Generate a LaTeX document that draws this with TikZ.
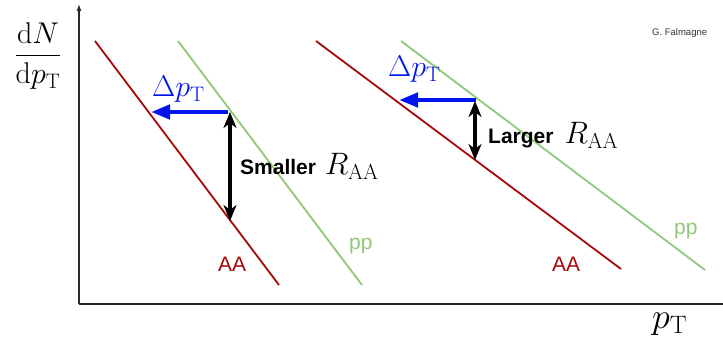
\documentclass[tikz,border=0pt]{standalone}
\usepackage{fix-cm}
\usepackage{amsmath}
\usepackage{fontspec}
\newfontfamily\hv{Liberation Sans}
\usetikzlibrary{arrows.meta}
\definecolor{aared}{RGB}{165,10,10}
\definecolor{ppgreen}{RGB}{145,200,120}
\definecolor{dpblue}{RGB}{0,20,240}
\definecolor{axisgray}{RGB}{40,40,40}
\begin{document}
\begin{tikzpicture}[x=1pt,y=-1pt,
  axisline/.style={draw=axisgray,line width=1.3pt},
  aaline/.style={draw=aared,line width=1.8pt},
  ppline/.style={draw=ppgreen,line width=1.8pt},
  shiftarrow/.style={draw=dpblue,line width=4.5pt,-{Triangle[length=19pt,width=14pt]}},
  raaarrow/.style={draw=black,line width=3.3pt,{Stealth[length=16pt,width=13pt,inset=5pt]}-{Stealth[length=16pt,width=13pt,inset=5pt]}},
  mlabel/.style={inner sep=0pt,font=\fontsize{30}{36}\selectfont},
  slabel/.style={inner sep=0pt,font=\hv\fontsize{21}{25}\selectfont},
]
\useasboundingbox (0,0) rectangle (723,350);
% axes
\coordinate (O) at (79,304);
\coordinate (ytop) at (79,4);
\coordinate (xend) at (723,304);
\draw[axisline,-{Latex[length=7pt,width=5pt]}] (O) -- (ytop);
\draw[axisline] (O) -- (xend);
\node[mlabel] (ylab) at (38,56) {$\dfrac{\mathrm{d}N}{\mathrm{d}p_{\mathrm{T}}}$};
\node[inner sep=0pt,anchor=base west,font=\fontsize{36}{42}\selectfont] (xlab) at (652,328) {$p_{\mathrm{T}}$};
\node[inner sep=0pt,anchor=base west,font=\hv\fontsize{9.5}{11}\selectfont,text=black!80] (credit) at (652,36) {G. Falmagne};
% left pair
\coordinate (aa1s) at (95,41);
\coordinate (aa1e) at (279,285);
\coordinate (pp1s) at (178,41);
\coordinate (pp1e) at (362,285);
\draw[aaline] (aa1s) -- (aa1e);
\draw[ppline] (pp1s) -- (pp1e);
% right pair
\coordinate (aa2s) at (316,41);
\coordinate (aa2e) at (621,269);
\coordinate (pp2s) at (401,41);
\coordinate (pp2e) at (705,270);
\draw[aaline] (aa2s) -- (aa2e);
\draw[ppline] (pp2s) -- (pp2e);
% left arrows
\coordinate (b1s) at (228,112);
\coordinate (b1e) at (151,112);
\draw[shiftarrow] (b1s) -- (b1e);
\coordinate (r1t) at (230,112);
\coordinate (r1b) at (230,221);
\draw[raaarrow] (r1t) -- (r1b);
% right arrows
\coordinate (b2s) at (476,100);
\coordinate (b2e) at (399,100);
\draw[shiftarrow] (b2s) -- (b2e);
\coordinate (r2t) at (475,101);
\coordinate (r2b) at (475,160);
\draw[raaarrow] (r2t) -- (r2b);
% labels
\node[mlabel,anchor=base west,text=dpblue] (dp1) at (152,97) {$\Delta p_{\mathrm{T}}$};
\node[mlabel,anchor=base west,text=dpblue] (dp2) at (388,77) {$\Delta p_{\mathrm{T}}$};
\node[inner sep=0pt,anchor=base west] (sm) at (240,175) {{\hv\bfseries\fontsize{21}{25}\selectfont Smaller}\hspace{9pt}{\fontsize{31}{36}\selectfont$R_{\mathrm{AA}}$}};
\node[inner sep=0pt,anchor=base west] (lg) at (488,144) {{\hv\bfseries\fontsize{21}{25}\selectfont Larger}\hspace{11pt}{\fontsize{31}{36}\selectfont$R_{\mathrm{AA}}$}};
\node[slabel,anchor=base west,text=aared] (aa1) at (218,271) {AA};
\node[slabel,anchor=base west,text=ppgreen] (pp1) at (349,249) {pp};
\node[slabel,anchor=base west,text=aared] (aa2) at (552,271) {AA};
\node[slabel,anchor=base west,text=ppgreen] (pp2) at (674,234) {pp};
\end{tikzpicture}
\end{document}
